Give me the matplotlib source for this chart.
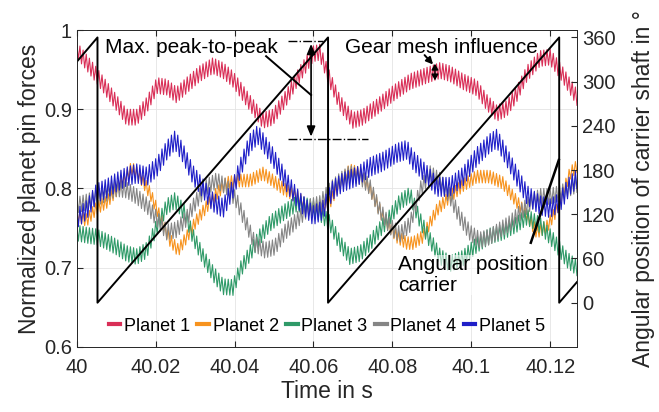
import matplotlib.pyplot as plt
import numpy as np
from matplotlib.lines import Line2D
from matplotlib.ticker import FuncFormatter

plt.rcParams["font.family"] = ["Liberation Sans", "DejaVu Sans"]

T0 = 40.0  # s, times below are ms after T0

# low-frequency course of the pin forces
p1_ms = [0, 5.0, 10.1, 12.6, 15.2, 17.7, 20.3, 22.8, 25.3, 27.8, 31.2, 34.5, 37.1, 39.6,
         43.9, 47.2, 49.7, 53.3, 56.6, 59.9, 61.6, 64.2, 66.7, 70.0, 72.5, 76.1, 80.2,
         84.5, 88.8, 92.1, 94.6, 97.9, 101.4, 103.9, 106.5, 109.0, 111.6, 114.1, 117.4,
         120.0, 122.5, 126.8]
p1_val = [0.975, 0.943, 0.908, 0.890, 0.890, 0.905, 0.930, 0.928, 0.918, 0.930, 0.945,
          0.955, 0.949, 0.938, 0.908, 0.886, 0.890, 0.916, 0.945, 0.970, 0.972, 0.937,
          0.908, 0.886, 0.890, 0.903, 0.920, 0.935, 0.943, 0.949, 0.945, 0.935, 0.927,
          0.909, 0.895, 0.901, 0.920, 0.945, 0.964, 0.966, 0.949, 0.915]

p2_ms = [0, 2.5, 5.0, 7.6, 10.1, 12.6, 13.9, 16.0, 18.6, 21.1, 23.6, 25.7, 27.9, 30.4,
         32.9, 35.5, 38.0, 41.4, 43.9, 47.2, 49.7, 52.3, 55.8, 59.1, 61.6, 64.2, 66.7,
         69.2, 71.8, 74.3, 77.6, 81.2, 83.7, 85.2, 87.7, 91.3, 94.6, 97.9, 101.4, 104.7,
         108.0, 111.6, 114.1, 116.6, 119.2, 121.7, 125.0, 126.8]
p2_val = [0.766, 0.760, 0.775, 0.783, 0.798, 0.815, 0.826, 0.815, 0.794, 0.764, 0.735,
          0.722, 0.739, 0.760, 0.777, 0.794, 0.807, 0.810, 0.810, 0.819, 0.810, 0.800,
          0.790, 0.773, 0.775, 0.783, 0.807, 0.823, 0.819, 0.800, 0.764, 0.739, 0.731,
          0.731, 0.739, 0.773, 0.790, 0.804, 0.815, 0.815, 0.807, 0.783, 0.766, 0.745,
          0.752, 0.773, 0.819, 0.828]

p3_ms = [0, 2.5, 5.0, 7.6, 10.1, 12.6, 15.2, 17.7, 20.3, 22.8, 24.9, 27.4, 29.5, 32.0,
         34.5, 37.1, 39.6, 41.4, 43.9, 46.4, 49.0, 52.3, 55.8, 59.1, 61.6, 64.2, 66.7,
         69.2, 71.8, 74.3, 76.8, 79.4, 81.9, 84.5, 87.0, 89.5, 92.1, 94.6, 97.9, 101.4,
         104.7, 108.0, 111.6, 114.1, 117.4, 120.7, 124.3, 126.8]
p3_val = [0.744, 0.741, 0.739, 0.733, 0.726, 0.718, 0.714, 0.722, 0.752, 0.777, 0.785,
          0.769, 0.739, 0.714, 0.693, 0.676, 0.675, 0.697, 0.718, 0.739, 0.756, 0.769,
          0.781, 0.777, 0.769, 0.756, 0.731, 0.714, 0.718, 0.731, 0.748, 0.764, 0.783,
          0.792, 0.760, 0.735, 0.714, 0.705, 0.712, 0.729, 0.740, 0.745, 0.755, 0.764,
          0.754, 0.735, 0.710, 0.700]

p4_ms = [0, 2.5, 5.0, 7.6, 10.1, 12.6, 15.2, 17.7, 20.3, 22.8, 25.3, 27.8, 30.4, 32.9,
         35.5, 38.0, 40.5, 42.6, 45.2, 47.7, 50.2, 52.8, 55.8, 59.1, 61.6, 64.2, 66.7,
         69.2, 71.8, 74.3, 76.8, 79.4, 81.9, 84.5, 87.0, 89.5, 92.1, 94.6, 97.1, 99.7,
         102.2, 104.7, 107.3, 109.8, 112.3, 114.8, 117.4, 119.9, 122.5, 126.8]
p4_val = [0.779, 0.783, 0.788, 0.794, 0.800, 0.798, 0.790, 0.779, 0.762, 0.745, 0.748,
          0.762, 0.785, 0.802, 0.810, 0.802, 0.785, 0.760, 0.730, 0.722, 0.726, 0.745,
          0.760, 0.777, 0.781, 0.798, 0.810, 0.819, 0.815, 0.802, 0.773, 0.752, 0.742,
          0.755, 0.798, 0.819, 0.810, 0.790, 0.764, 0.744, 0.735, 0.739, 0.748, 0.756,
          0.769, 0.781, 0.790, 0.790, 0.794, 0.805]

p5_ms = [0, 2.5, 5.0, 7.6, 10.1, 12.6, 15.2, 17.7, 20.3, 22.8, 24.9, 26.9, 29.5, 32.0,
         34.5, 37.1, 39.6, 41.4, 43.9, 45.9, 49.7, 53.3, 56.6, 59.9, 62.4, 64.9, 67.5,
         71.0, 74.3, 77.6, 81.2, 83.7, 85.2, 88.8, 91.3, 94.6, 97.9, 101.4, 104.7, 106.5,
         109.0, 111.6, 114.1, 117.4, 120.0, 122.5, 125.0, 126.8]
p5_val = [0.762, 0.773, 0.794, 0.800, 0.808, 0.815, 0.819, 0.815, 0.827, 0.848, 0.861,
          0.845, 0.817, 0.800, 0.783, 0.775, 0.800, 0.825, 0.857, 0.868, 0.840, 0.807,
          0.783, 0.766, 0.773, 0.798, 0.808, 0.815, 0.827, 0.834, 0.845, 0.849, 0.836,
          0.817, 0.802, 0.802, 0.815, 0.840, 0.857, 0.863, 0.840, 0.815, 0.792, 0.779,
          0.775, 0.783, 0.804, 0.812]

labels = ["Planet 1", "Planet 2", "Planet 3", "Planet 4", "Planet 5"]
colors = ["#d92f57", "#f7931e", "#2f9a68", "#858585", "#1f1fc8"]
# half peak-to-peak of the gear mesh ripple on each planet
mesh_ripple = [0.010, 0.008, 0.010, 0.010, 0.012]
MESH_PERIOD_MS = 0.8

# carrier angle, sawtooth corners
carrier_ms = [0, 5.25, 5.25, 63.7, 63.7, 122.3, 122.3, 126.8]
carrier_deg = [327, 360, 0, 360, 0, 360, 0, 28]

series = [(p1_ms, p1_val), (p2_ms, p2_val), (p3_ms, p3_val), (p4_ms, p4_val), (p5_ms, p5_val)]


def t(ms):
    return T0 + np.asarray(ms) / 1000.0


fig = plt.figure(figsize=(6.59, 4.12), dpi=100)
ax = fig.add_axes([0.1165, 0.158, 0.759, 0.769])
ax2 = ax.twinx()

for (ms, val), amp, col, lab in zip(series, mesh_ripple, colors, labels):
    tt = np.arange(0, ms[-1] + 1e-9, MESH_PERIOD_MS / 2)
    sign = np.where(np.arange(len(tt)) % 2 == 0, 1.0, -1.0)
    yy = np.interp(tt, ms, val) + amp * sign
    ax.plot(t(tt), yy, color=col, lw=0.8, label=lab)

ax2.plot(t(carrier_ms), carrier_deg, color="black", lw=1.4)

ax.set_xlim(T0, t(126.8))
ax.set_ylim(0.6, 1.0)
ax2.set_ylim(-60, 370)
ax.set_xticks(np.arange(40, 40.121, 0.02))
ax.set_yticks([0.6, 0.7, 0.8, 0.9, 1.0])
ax2.set_yticks(np.arange(0, 361, 60))
fmt = FuncFormatter(lambda v, p: f"{v:g}")
ax.xaxis.set_major_formatter(fmt)
ax.yaxis.set_major_formatter(fmt)
ax.grid(color="#e4e4e4", lw=0.6)
ax.set_axisbelow(True)

ink = "#262626"
ax.tick_params(direction="in", length=4, labelsize=14.5, colors=ink, top=True)
ax.tick_params(axis="x", pad=8)
ax2.tick_params(direction="in", length=4, labelsize=14.5, colors=ink)
for a in (ax, ax2):
    for s in a.spines.values():
        s.set_color(ink)
        s.set_linewidth(0.6)

ax.set_xlabel("Time in s", fontsize=16.5, color=ink, labelpad=2)
ax.set_ylabel("Normalized planet pin forces", fontsize=16.5, color=ink, labelpad=2)
ax2.set_ylabel("Angular position of carrier shaft in °", fontsize=16.5, color=ink, labelpad=12)

handles = [Line2D([], [], color=c, lw=3) for c in colors]
ax2.legend(handles, labels, loc="center", bbox_to_anchor=(0.5, 0.065), ncol=5, frameon=False,
           fontsize=13, handlelength=0.65, handletextpad=0.2, columnspacing=0.4)

# annotations (drawn above everything, in force-axis coordinates)
tr = ax.transData
ax2.text(t(7.2), 0.978, "Max. peak-to-peak", transform=tr, fontsize=15, va="center", color="black")
ax2.plot(t([48.0, 59.4]), [0.967, 0.918], transform=tr, color="black", lw=1.4)
ax2.plot(t([53.5, 62.4]), [0.986, 0.986], transform=tr, color="black", lw=1.0, ls="-.")
ax2.plot(t([53.5, 73.8]), [0.862, 0.862], transform=tr, color="black", lw=1.0, ls="-.")
ax2.annotate("", xy=(t(59.4), 0.986), xytext=(t(59.4), 0.862), xycoords=tr, textcoords=tr,
             arrowprops=dict(arrowstyle="<|-|>,head_width=0.25,head_length=0.6", color="black", lw=1.2))

ax2.text(t(68.0), 0.978, "Gear mesh influence", transform=tr, fontsize=15, va="center", color="black")
ax2.annotate("", xy=(t(90.8), 0.954), xytext=(t(87.7), 0.971), xycoords=tr, textcoords=tr,
             arrowprops=dict(arrowstyle="-|>,head_width=0.2,head_length=0.4", color="black", lw=1.4))
ax2.annotate("", xy=(t(90.8), 0.961), xytext=(t(90.8), 0.933), xycoords=tr, textcoords=tr,
             arrowprops=dict(arrowstyle="<|-|>,head_width=0.2,head_length=0.35", color="black", lw=1.0))

ax2.text(t(81.4), 0.716, "Angular position\ncarrier", transform=tr, fontsize=15, va="top",
         color="black", linespacing=1.15,
         bbox=dict(facecolor="white", alpha=0.6, edgecolor="none", pad=0))
ax2.plot(t([115.1, 122.2]), [0.7315, 0.836], transform=tr, color="black", lw=1.8)

ax2.set_xlim(T0, t(126.8))
ax2.set_ylim(-60, 370)
fig.savefig("out.png", dpi=100)
